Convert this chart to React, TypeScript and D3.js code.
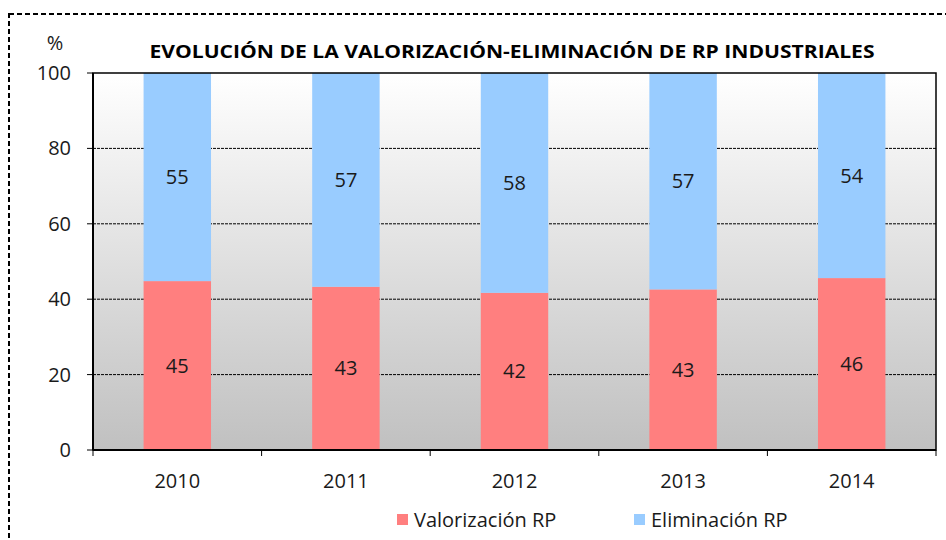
import React from "react";
import * as d3 from "d3";

const years = ["2010", "2011", "2012", "2013", "2014"];
const valorizacion = [44.8, 43.3, 41.7, 42.6, 45.6];
const eliminacion = [55.2, 56.7, 58.3, 57.4, 54.4];
const yTicks = [0, 20, 40, 60, 80, 100];
const seriesNames = ["Valorización RP", "Eliminación RP"];
const seriesColors = ["#FF7F7F", "#99CCFF"];
const title = "EVOLUCIÓN DE LA VALORIZACIÓN-ELIMINACIÓN DE RP INDUSTRIALES";

const W = 946;
const H = 540;
const M = { left: 93, right: 936, top: 73, bottom: 450 };
const FONT = "'Open Sans', 'Noto Sans', sans-serif";

export default function App() {
  const x = d3.scaleBand<string>().domain(years).range([M.left, M.right]).paddingInner(0.6).paddingOuter(0.3);
  const band = d3.scaleBand<string>().domain(years).range([M.left, M.right]);
  const y = d3.scaleLinear().domain([0, 100]).range([M.bottom, M.top]);
  const fmt = d3.format(".0f");

  const stackData = years.map((yr, i) => ({ year: yr, v: valorizacion[i], e: eliminacion[i] }));
  const stack = d3.stack<any>().keys(["v", "e"])(stackData);

  return (
    <svg width={W} height={H} style={{ position: "absolute", left: 0, top: 0, background: "#fff" }}>
      <defs>
        <linearGradient id="bg" x1="0" y1="0" x2="0" y2="1">
          <stop offset="0" stopColor="#ffffff" />
          <stop offset="1" stopColor="#c0c0c0" />
        </linearGradient>
      </defs>
      <rect x={9} y={14} width={W + 20} height={H + 20} fill="none" stroke="#000" strokeWidth={2} strokeDasharray="5,3" />
      <rect x={M.left} y={M.top} width={M.right - M.left} height={M.bottom - M.top} fill="url(#bg)" />
      {yTicks.filter((t) => t > 0 && t < 100).map((t) => (
        <line key={t} x1={M.left} x2={M.right} y1={y(t)} y2={y(t)} stroke="#000" strokeWidth={1} strokeDasharray="3,1" />
      ))}
      {stack.map((s, si) =>
        s.map((d, i) => (
          <rect key={si + "-" + i} x={x(years[i])} width={x.bandwidth()} y={y(d[1])} height={y(d[0]) - y(d[1])} fill={seriesColors[si]} />
        ))
      )}
      {stack.map((s, si) =>
        s.map((d, i) => (
          <text key={"l" + si + "-" + i} x={(x(years[i]) as number) + x.bandwidth() / 2} y={(y(d[0]) + y(d[1])) / 2} dy="0.35em" textAnchor="middle" fontFamily={FONT} fontSize={20} fill="#1a1a1a">
            {fmt(d[1] - d[0])}
          </text>
        ))
      )}
      <rect x={M.left} y={M.top} width={M.right - M.left} height={M.bottom - M.top} fill="none" stroke="#000" strokeWidth={1.5} />
      <line x1={M.left} x2={M.left} y1={M.top} y2={M.bottom} stroke="#000" strokeWidth={2} />
      <line x1={M.left} x2={M.right} y1={M.bottom} y2={M.bottom} stroke="#000" strokeWidth={2} />
      {yTicks.map((t) => (
        <g key={"yt" + t}>
          <line x1={M.left - 6} x2={M.left} y1={y(t)} y2={y(t)} stroke="#000" strokeWidth={1} />
          <text x={71} y={y(t)} dy="0.35em" textAnchor="end" fontFamily={FONT} fontSize={20} fill="#1a1a1a">{t}</text>
        </g>
      ))}
      {[...years.map((yr) => band(yr) as number), M.right].map((xx, i) => (
        <line key={"xt" + i} x1={xx} x2={xx} y1={M.bottom} y2={M.bottom + 6} stroke="#000" strokeWidth={1} />
      ))}
      {years.map((yr) => (
        <text key={"xl" + yr} x={(band(yr) as number) + band.bandwidth() / 2} y={481} dy="0.35em" textAnchor="middle" fontFamily={FONT} fontSize={20} fill="#1a1a1a">{yr}</text>
      ))}
      <text x={55} y={43} dy="0.35em" textAnchor="middle" fontFamily={FONT} fontSize={20} fill="#1a1a1a">%</text>
      <text x={512} y={52} dy="0.35em" textAnchor="middle" fontFamily={FONT} fontSize={18} fontWeight="bold" fill="#000" textLength={725} lengthAdjust="spacingAndGlyphs">{title}</text>
      {seriesNames.map((n, i) => {
        const lx = [397, 634][i];
        return (
          <g key={n}>
            <rect x={lx} y={514} width={11} height={11} fill={seriesColors[i]} />
            <text x={lx + 17} y={520} dy="0.35em" fontFamily={FONT} fontSize={20} fill="#1a1a1a">{n}</text>
          </g>
        );
      })}
    </svg>
  );
}
